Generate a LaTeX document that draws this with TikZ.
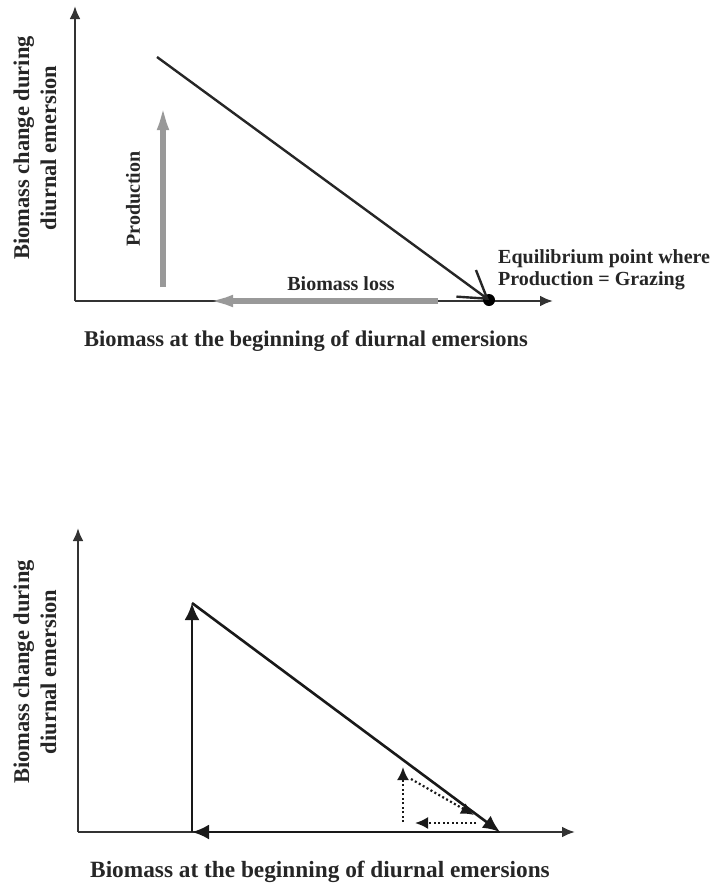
\documentclass[tikz,border=0pt]{standalone}
\usepackage{fontspec}
\setmainfont{Liberation Serif}
\usetikzlibrary{arrows.meta}
\begin{document}
\begin{tikzpicture}[x=1pt,y=-1pt,
  axis/.style={draw=black!80, line width=2.4pt, -{Latex[length=13pt,width=11pt]}},
  lbl/.style={font=\bfseries\fontsize{20}{22}\selectfont, text=black!85, inner sep=0pt},
  axlbl/.style={font=\bfseries\fontsize{22.5}{27}\selectfont, text=black!85, inner sep=0pt, align=center},
  greyarrow/.style={draw=black!40, line width=6pt, -{Latex[length=48pt,width=11pt]}},
  blk/.style={draw=black!90, line width=2.6pt, -{Latex[length=17pt,width=15pt]}},
  dotarr/.style={draw=black!90, line width=2.2pt, dash pattern=on 2pt off 2.5pt, -{Latex[length=13pt,width=12pt]}}]
\useasboundingbox (0,0) rectangle (719,887);
% ---------- top panel ----------
\coordinate (o1) at (75,301);
\coordinate (yt1) at (75,6);
\coordinate (xt1) at (553,301);
\draw[axis] (o1) -- (yt1);
\draw[axis] (o1) -- (xt1);
\coordinate (ls) at (438,301);
\coordinate (le) at (185,301);
\draw[greyarrow] (ls) -- (le);
\coordinate (ps) at (163,287);
\coordinate (pe) at (163,82);
\draw[greyarrow] (ps) -- (pe);
\node[circle, fill=black, inner sep=0pt, minimum size=12pt] (eq) at (489,300) {};
\coordinate (dstart) at (157,57);
\draw[draw=black!85, line width=2.4pt, -{Straight Barb[length=26pt,width=33pt,line width=2.4pt]}] (dstart) -- (eq.center);
\node[lbl, rotate=90] (prod) at (133,199) {Production};
\node[lbl] (bl) at (341,284) {Biomass loss};
\node[lbl, anchor=west, align=left] (eqt) at (498,270) {Equilibrium point where\\Production = Grazing};
\node[axlbl, rotate=90] (ylab1) at (35,148) {Biomass change during\\diurnal emersion};
\node[axlbl] (xlab1) at (306,341) {Biomass at the beginning of diurnal emersions};
% ---------- bottom panel ----------
\coordinate (o2) at (78,832);
\coordinate (yt2) at (78,528);
\coordinate (xt2) at (575,832);
\draw[axis] (o2) -- (yt2);
\draw[axis] (o2) -- (xt2);
\coordinate (a) at (192,832);
\coordinate (b) at (192,603);
\coordinate (c) at (500,832);
\draw[blk] (a) -- (b);
\draw[blk] (b) -- (c);
\draw[blk] (c) -- (a);
\coordinate (d1) at (403,822);
\coordinate (d2) at (403,767);
\coordinate (d3) at (411,779);
\coordinate (d4) at (474,815);
\coordinate (d5) at (476,823);
\coordinate (d6) at (415,823);
\draw[dotarr] (d1) -- (d2);
\draw[dotarr] (d3) -- (d4);
\draw[dotarr] (d5) -- (d6);
\node[axlbl, rotate=90] (ylab2) at (35,672) {Biomass change during\\diurnal emersion};
\node[axlbl, font=\bfseries\fontsize{23.3}{27}\selectfont] (xlab2) at (320,872) {Biomass at the beginning of diurnal emersions};
\end{tikzpicture}
\end{document}
